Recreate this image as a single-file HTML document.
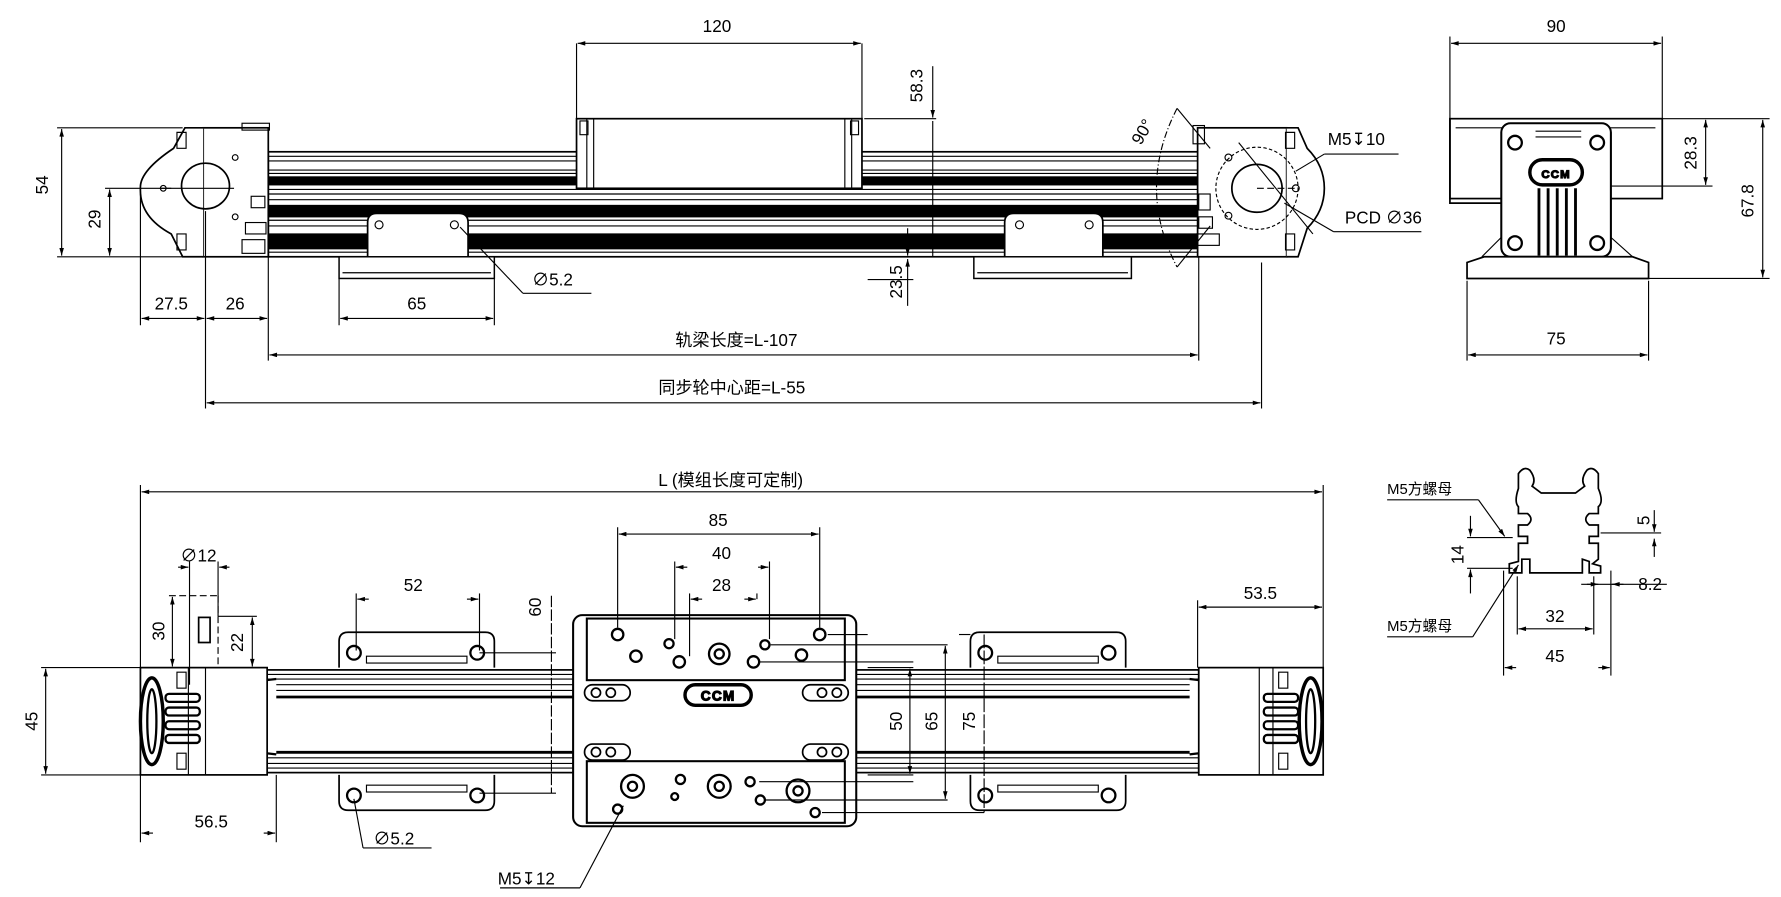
<!DOCTYPE html>
<html><head><meta charset="utf-8"><style>
html,body{margin:0;padding:0;background:#fff;}
svg{display:block;}
text{font-family:"Liberation Sans Narrow","Liberation Sans","Noto Sans CJK SC",sans-serif;fill:#000;}
</style></head><body>
<svg width="1781" height="897" viewBox="0 0 1560 786" preserveAspectRatio="none" xmlns="http://www.w3.org/2000/svg">
<defs>
<marker id="a" viewBox="0 0 10 6" refX="10" refY="3" markerWidth="8" markerHeight="4" orient="auto-start-reverse"><path d="M0,0L10,3L0,6z" fill="#000"/></marker>
</defs>
<g stroke="#000" fill="none" stroke-width="1">

<!-- ================= TOP VIEW ================= -->
<!-- rail -->
<rect x="235" y="133" width="815" height="92" fill="#fff" stroke-width="1.5"/>
<g stroke="#000">
<line x1="235" y1="137" x2="1050" y2="137"/><line x1="235" y1="141" x2="1050" y2="141"/>
<line x1="235" y1="149" x2="1050" y2="149"/><line x1="235" y1="152" x2="1050" y2="152"/>
<line x1="235" y1="166" x2="1050" y2="166"/><line x1="235" y1="170" x2="1050" y2="170"/>
<line x1="235" y1="175" x2="1050" y2="175"/><line x1="235" y1="193" x2="1050" y2="193"/>
<line x1="235" y1="198" x2="1050" y2="198"/><line x1="235" y1="221" x2="1050" y2="221"/>
</g>
<rect x="235" y="155" width="815" height="7" fill="#000"/>
<rect x="235" y="180" width="815" height="10" fill="#000"/>
<rect x="235" y="205" width="815" height="13" fill="#000"/>
<!-- top carriage (view) -->
<rect x="505" y="104" width="250" height="61" fill="#fff" stroke-width="1.5"/>
<line x1="520" y1="104" x2="520" y2="165"/><line x1="740" y1="104" x2="740" y2="165"/>
<line x1="514" y1="104" x2="514" y2="165"/><line x1="746" y1="104" x2="746" y2="165"/>
<path d="M508,106 l7,0 l0,12 l-7,0z M745,106 l7,0 l0,12 l-7,0z"/>
<!-- bottom feet top view -->
<path d="M322,225 L322,195 Q322,187 330,187 L402,187 Q410,187 410,195 L410,225" fill="#fff" stroke-width="1.5"/>
<rect x="297" y="225" width="136" height="19" fill="#fff" stroke-width="1.3"/>
<line x1="300" y1="239" x2="430" y2="239"/>
<circle cx="332" cy="197" r="3.5"/><circle cx="398" cy="197" r="3.5"/>
<path d="M880,225 L880,195 Q880,187 888,187 L958,187 Q966,187 966,195 L966,225" fill="#fff" stroke-width="1.5"/>
<rect x="853" y="225" width="138" height="19" fill="#fff" stroke-width="1.3"/>
<line x1="856" y1="239" x2="988" y2="239"/>
<circle cx="893" cy="197" r="3.5"/><circle cx="954" cy="197" r="3.5"/>
<!-- left end -->
<rect x="178" y="112" width="57" height="113" fill="#fff" stroke-width="1.5"/>
<path d="M178,112 L162,112 L152,130 Q122,150 123,165 Q122,190 150,205 L160,225 L178,225" fill="#fff" stroke-width="1.5"/>
<path d="M155,116 l8,0 l0,14 l-8,0z M155,205 l8,0 l0,14 l-8,0z"/>
<ellipse cx="180" cy="163" rx="21" ry="20" stroke-width="1.5"/>
<line x1="140" y1="165" x2="205" y2="165"/>
<circle cx="143" cy="165" r="2.5"/><circle cx="206" cy="138" r="2.5"/><circle cx="206" cy="190" r="2.5"/>
<rect x="212" y="108" width="24" height="6"/><rect x="220" y="172" width="12" height="10"/><rect x="215" y="195" width="18" height="10"/><rect x="212" y="210" width="20" height="12"/>
<!-- right end -->
<rect x="1049" y="112" width="78" height="113" fill="#fff" stroke-width="1.5"/>
<path d="M1127,112 L1137,112 L1145,130 Q1160,145 1160,165 Q1160,185 1145,200 L1137,225 L1127,225" fill="#fff" stroke-width="1.5"/>
<path d="M1126,116 l8,0 l0,14 l-8,0z M1126,205 l8,0 l0,14 l-8,0z"/>
<rect x="1045" y="110" width="10" height="16"/><rect x="1050" y="170" width="10" height="14"/><rect x="1050" y="190" width="12" height="10"/><rect x="1048" y="205" width="20" height="10"/>
<ellipse cx="1101" cy="165" rx="22" ry="21" stroke-width="1.5"/>
<circle cx="1101" cy="165" r="36" stroke-dasharray="3,2"/>
<line x1="1101" y1="165" x2="1135" y2="165" stroke-dasharray="6,3"/>
<line x1="1085" y1="125" x2="1150" y2="205"/>
<circle cx="1076" cy="138" r="3"/><circle cx="1076" cy="189" r="3"/><circle cx="1135" cy="165" r="3"/>
<path d="M1031,95 Q995,165 1031,234" stroke-dasharray="6,2,1,2"/>
<line x1="1031" y1="95" x2="1060" y2="130"/><line x1="1031" y1="234" x2="1060" y2="198"/>
<line x1="1135" y1="150" x2="1160" y2="135"/><line x1="1160" y1="135" x2="1225" y2="135"/>
<line x1="1125" y1="178" x2="1168" y2="203"/><line x1="1168" y1="203" x2="1245" y2="203"/>

<!-- dims top view -->
<line x1="505" y1="38" x2="505" y2="104"/><line x1="755" y1="38" x2="755" y2="104"/>
<line x1="506" y1="38" x2="754" y2="38" marker-start="url(#a)" marker-end="url(#a)"/>
<line x1="50" y1="112" x2="160" y2="112"/><line x1="50" y1="225" x2="500" y2="225"/>
<line x1="54" y1="113" x2="54" y2="224" marker-start="url(#a)" marker-end="url(#a)"/>
<line x1="92" y1="165" x2="150" y2="165"/>
<line x1="96" y1="166" x2="96" y2="224" marker-start="url(#a)" marker-end="url(#a)"/>
<line x1="123" y1="170" x2="123" y2="285"/><line x1="180" y1="185" x2="180" y2="358"/><line x1="235" y1="225" x2="235" y2="316"/>
<line x1="124" y1="279" x2="179" y2="279" marker-start="url(#a)" marker-end="url(#a)"/>
<line x1="181" y1="279" x2="234" y2="279" marker-start="url(#a)" marker-end="url(#a)"/>
<line x1="297" y1="244" x2="297" y2="285"/><line x1="433" y1="244" x2="433" y2="285"/>
<line x1="298" y1="279" x2="432" y2="279" marker-start="url(#a)" marker-end="url(#a)"/>
<line x1="403" y1="199" x2="458" y2="257"/><line x1="458" y1="257" x2="518" y2="257"/>
<line x1="1050" y1="225" x2="1050" y2="316"/><line x1="1105" y1="230" x2="1105" y2="358"/>
<line x1="236" y1="311" x2="1049" y2="311" marker-start="url(#a)" marker-end="url(#a)"/>
<line x1="181" y1="353" x2="1104" y2="353" marker-start="url(#a)" marker-end="url(#a)"/>
<line x1="757" y1="104" x2="820" y2="104"/>
<line x1="817" y1="58" x2="817" y2="103" marker-end="url(#a)"/>
<line x1="817" y1="106" x2="817" y2="225"/>
<line x1="795" y1="200" x2="795" y2="224" marker-end="url(#a)"/>
<line x1="795" y1="227" x2="795" y2="268" marker-start="url(#a)"/>
<line x1="760" y1="245" x2="800" y2="245"/>

<!-- ================= END VIEW (top right) ================= -->
<rect x="1270" y="104" width="186" height="70" fill="#fff" stroke-width="1.5"/>
<line x1="1275" y1="112" x2="1450" y2="112"/>
<path d="M1270,104 L1270,178 L1315,178" stroke-width="1.5"/>
<path d="M1456,104 L1456,174"/>
<rect x="1315" y="108" width="96" height="117" rx="8" fill="#fff" stroke-width="1.8"/>
<path d="M1285,244 L1285,230 L1300,225 L1430,225 L1444,230 L1444,244 Z" fill="#fff" stroke-width="1.5"/>
<path d="M1298,225 L1315,208 M1430,225 L1411,208"/>
<rect x="1340" y="140" width="46" height="22" rx="11" stroke-width="3"/>
<text x="1363" y="156" font-size="10" text-anchor="middle" font-weight="bold" style="letter-spacing:1px">CCM</text>
<circle cx="1327" cy="125" r="6" stroke-width="2"/><circle cx="1399" cy="125" r="6" stroke-width="2"/>
<circle cx="1327" cy="213" r="6" stroke-width="2"/><circle cx="1399" cy="213" r="6" stroke-width="2"/>
<g stroke-width="2.5"><line x1="1348" y1="165" x2="1348" y2="224"/><line x1="1356" y1="165" x2="1356" y2="224"/><line x1="1364" y1="165" x2="1364" y2="224"/><line x1="1372" y1="165" x2="1372" y2="224"/><line x1="1380" y1="165" x2="1380" y2="224"/></g>
<line x1="1345" y1="115" x2="1385" y2="115"/><line x1="1345" y1="120" x2="1385" y2="120"/>
<!-- end view dims -->
<line x1="1270" y1="32" x2="1270" y2="104"/><line x1="1456" y1="32" x2="1456" y2="104"/>
<line x1="1271" y1="38" x2="1455" y2="38" marker-start="url(#a)" marker-end="url(#a)"/>
<line x1="1456" y1="104" x2="1550" y2="104"/><line x1="1411" y1="163" x2="1500" y2="163"/><line x1="1444" y1="244" x2="1550" y2="244"/>
<line x1="1494" y1="105" x2="1494" y2="162" marker-start="url(#a)" marker-end="url(#a)"/>
<line x1="1544" y1="105" x2="1544" y2="243" marker-start="url(#a)" marker-end="url(#a)"/>
<line x1="1285" y1="246" x2="1285" y2="316"/><line x1="1444" y1="246" x2="1444" y2="316"/>
<line x1="1286" y1="311" x2="1443" y2="311" marker-start="url(#a)" marker-end="url(#a)"/>

<!-- ================= BOTTOM VIEW ================= -->
<rect x="234" y="587" width="816" height="90" fill="#fff" stroke-width="1.5"/>
<g>
<line x1="234" y1="591" x2="1050" y2="591"/><line x1="234" y1="595" x2="1050" y2="595"/><line x1="234" y1="600" x2="1050" y2="600"/>
<line x1="234" y1="605" x2="1050" y2="605"/><line x1="234" y1="610" x2="1050" y2="610"/>
<line x1="234" y1="660" x2="1050" y2="660"/><line x1="234" y1="664" x2="1050" y2="664"/><line x1="234" y1="669" x2="1050" y2="669"/><line x1="234" y1="673" x2="1050" y2="673"/>
</g>
<line x1="234" y1="611" x2="1050" y2="611" stroke-width="2"/><line x1="234" y1="659" x2="1050" y2="659" stroke-width="2"/>
<!-- feet bottom view -->
<g stroke-width="1.5" fill="#fff">
<path d="M297,585 L297,562 Q297,554 305,554 L425,554 Q433,554 433,562 L433,585"/>
<path d="M297,679 L297,702 Q297,710 305,710 L425,710 Q433,710 433,702 L433,679"/>
<path d="M850,585 L850,562 Q850,554 858,554 L978,554 Q986,554 986,562 L986,585"/>
<path d="M850,679 L850,702 Q850,710 858,710 L978,710 Q986,710 986,702 L986,679"/>
</g>
<g stroke-width="2"><circle cx="310" cy="572" r="6"/><circle cx="418" cy="572" r="6"/><circle cx="310" cy="697" r="6"/><circle cx="418" cy="697" r="6"/>
<circle cx="863" cy="572" r="6"/><circle cx="971" cy="572" r="6"/><circle cx="863" cy="697" r="6"/><circle cx="971" cy="697" r="6"/></g>
<rect x="321" y="575" width="88" height="6"/><rect x="321" y="688" width="88" height="6"/>
<rect x="874" y="575" width="88" height="6"/><rect x="874" y="688" width="88" height="6"/>
<!-- caps -->
<path d="M242,595 L215,598 Q196,602 196,612 L196,645 Q196,655 215,658 L242,661" stroke-width="2" fill="#fff"/>
<rect x="205" y="615" width="20" height="38" fill="#000"/>
<path d="M1042,595 L1068,598 Q1087,602 1087,612 L1087,645 Q1087,655 1068,658 L1042,661" stroke-width="2" fill="#fff"/>
<rect x="1050" y="615" width="20" height="38" fill="#000"/>
<!-- left end bottom view -->
<rect x="123" y="585" width="111" height="94" fill="#fff" stroke-width="1.5"/>
<line x1="180" y1="585" x2="180" y2="679"/><line x1="165" y1="585" x2="165" y2="679"/>
<ellipse cx="133" cy="632" rx="10" ry="38" stroke-width="3"/>
<ellipse cx="133" cy="632" rx="4" ry="28" stroke-width="2"/>
<g stroke-width="2"><rect x="145" y="608" width="30" height="7" rx="3"/><rect x="145" y="620" width="30" height="7" rx="3"/><rect x="145" y="632" width="30" height="7" rx="3"/><rect x="145" y="644" width="30" height="7" rx="3"/></g>
<rect x="155" y="589" width="8" height="14"/><rect x="155" y="660" width="8" height="14"/>
<!-- right end bottom view -->
<rect x="1050" y="585" width="109" height="94" fill="#fff" stroke-width="1.5"/>
<line x1="1103" y1="585" x2="1103" y2="679"/><line x1="1115" y1="585" x2="1115" y2="679"/>
<ellipse cx="1148" cy="632" rx="10" ry="38" stroke-width="3"/>
<ellipse cx="1148" cy="632" rx="4" ry="28" stroke-width="2"/>
<g stroke-width="2"><rect x="1107" y="608" width="30" height="7" rx="3"/><rect x="1107" y="620" width="30" height="7" rx="3"/><rect x="1107" y="632" width="30" height="7" rx="3"/><rect x="1107" y="644" width="30" height="7" rx="3"/></g>
<rect x="1120" y="589" width="8" height="14"/><rect x="1120" y="660" width="8" height="14"/>
<!-- carriage bottom view -->
<rect x="502" y="539" width="248" height="185" rx="8" fill="#fff" stroke-width="1.8"/>
<rect x="514" y="542" width="226" height="54" stroke-width="1.8"/>
<rect x="514" y="667" width="226" height="54" stroke-width="1.8"/>
<g stroke-width="2">
<circle cx="541" cy="556" r="5"/><circle cx="586" cy="564" r="4"/><circle cx="557" cy="575" r="5"/><circle cx="595" cy="580" r="5"/>
<circle cx="630" cy="573" r="9"/><circle cx="630" cy="573" r="4"/>
<circle cx="660" cy="580" r="5"/><circle cx="670" cy="565" r="4"/><circle cx="702" cy="574" r="5"/><circle cx="718" cy="556" r="5"/>
<circle cx="554" cy="689" r="10"/><circle cx="554" cy="689" r="4"/><circle cx="596" cy="683" r="4"/><circle cx="591" cy="698" r="3"/>
<circle cx="630" cy="689" r="10"/><circle cx="630" cy="689" r="4"/><circle cx="657" cy="685" r="4"/><circle cx="666" cy="701" r="4"/>
<circle cx="699" cy="693" r="10"/><circle cx="699" cy="693" r="4"/><circle cx="541" cy="709" r="4"/><circle cx="714" cy="712" r="4"/>
</g>
<rect x="512" y="600" width="40" height="14" rx="7" stroke-width="1.5"/><rect x="703" y="600" width="40" height="14" rx="7" stroke-width="1.5"/>
<rect x="512" y="652" width="40" height="14" rx="7" stroke-width="1.5"/><rect x="703" y="652" width="40" height="14" rx="7" stroke-width="1.5"/>
<g stroke-width="1.5"><circle cx="522" cy="607" r="4"/><circle cx="535" cy="607" r="4"/><circle cx="720" cy="607" r="4"/><circle cx="733" cy="607" r="4"/>
<circle cx="522" cy="659" r="4"/><circle cx="535" cy="659" r="4"/><circle cx="720" cy="659" r="4"/><circle cx="733" cy="659" r="4"/></g>
<rect x="600" y="600" width="58" height="18" rx="9" stroke-width="3"/>
<text x="629" y="614" font-size="12" text-anchor="middle" font-weight="bold" style="letter-spacing:1px">CCM</text>
<!-- leaders from carriage holes -->
<line x1="725" y1="556" x2="760" y2="556"/><line x1="675" y1="565" x2="830" y2="565"/><line x1="665" y1="580" x2="800" y2="580"/>
<line x1="665" y1="685" x2="800" y2="685"/><line x1="670" y1="701" x2="830" y2="701"/><line x1="720" y1="712" x2="862" y2="712"/>
<!-- bottom view dims -->
<line x1="123" y1="425" x2="123" y2="738"/><line x1="1159" y1="425" x2="1159" y2="585"/>
<line x1="124" y1="431" x2="1158" y2="431" marker-start="url(#a)" marker-end="url(#a)"/>
<line x1="541" y1="462" x2="541" y2="550"/><line x1="718" y1="462" x2="718" y2="550"/>
<line x1="542" y1="468" x2="717" y2="468" marker-start="url(#a)" marker-end="url(#a)"/>
<line x1="591" y1="492" x2="591" y2="560"/><line x1="674" y1="492" x2="674" y2="560"/>
<line x1="592" y1="497" x2="602" y2="497" marker-start="url(#a)"/><line x1="664" y1="497" x2="673" y2="497" marker-end="url(#a)"/>
<line x1="604" y1="520" x2="604" y2="575"/><line x1="663" y1="520" x2="663" y2="525"/>
<line x1="605" y1="525" x2="615" y2="525" marker-start="url(#a)"/><line x1="652" y1="525" x2="662" y2="525" marker-end="url(#a)"/>
<line x1="312" y1="520" x2="312" y2="570"/><line x1="420" y1="520" x2="420" y2="570"/>
<line x1="313" y1="525" x2="323" y2="525" marker-start="url(#a)"/><line x1="409" y1="525" x2="419" y2="525" marker-end="url(#a)"/>
<line x1="483" y1="522" x2="483" y2="695" stroke-dasharray="10,2"/>
<line x1="420" y1="572" x2="487" y2="572"/><line x1="420" y1="695" x2="487" y2="695"/>
<line x1="166" y1="492" x2="166" y2="600"/><line x1="191" y1="492" x2="191" y2="540"/>
<line x1="156" y1="497" x2="165" y2="497" marker-end="url(#a)"/><line x1="192" y1="497" x2="201" y2="497" marker-start="url(#a)"/>
<line x1="148" y1="522" x2="192" y2="522" stroke-dasharray="6,3"/><line x1="191" y1="522" x2="191" y2="585" stroke-dasharray="6,3"/>
<line x1="151" y1="523" x2="151" y2="584" marker-start="url(#a)" marker-end="url(#a)"/>
<rect x="174" y="541" width="10" height="22" stroke-width="1.5"/>
<line x1="191" y1="540" x2="225" y2="540"/>
<line x1="221" y1="541" x2="221" y2="584" marker-start="url(#a)" marker-end="url(#a)"/>
<line x1="36" y1="585" x2="123" y2="585"/><line x1="36" y1="679" x2="123" y2="679"/>
<line x1="40" y1="586" x2="40" y2="678" marker-start="url(#a)" marker-end="url(#a)"/>
<line x1="242" y1="679" x2="242" y2="738"/>
<line x1="124" y1="730" x2="134" y2="730" marker-start="url(#a)"/><line x1="231" y1="730" x2="241" y2="730" marker-end="url(#a)"/>
<line x1="310" y1="700" x2="318" y2="743"/><line x1="318" y1="743" x2="378" y2="743"/>
<line x1="546" y1="706" x2="508" y2="778"/><line x1="438" y1="778" x2="508" y2="778"/>
<line x1="1049" y1="526" x2="1049" y2="585"/>
<line x1="1050" y1="532" x2="1158" y2="532" marker-start="url(#a)" marker-end="url(#a)"/>
<line x1="760" y1="585" x2="800" y2="585"/><line x1="760" y1="679" x2="800" y2="679"/>
<line x1="797" y1="586" x2="797" y2="678" marker-start="url(#a)" marker-end="url(#a)"/>
<line x1="828" y1="566" x2="828" y2="700" marker-start="url(#a)" marker-end="url(#a)"/>
<line x1="862" y1="556" x2="862" y2="712" stroke-dasharray="12,2"/>
<line x1="840" y1="556" x2="850" y2="556"/>

<!-- ================= PROFILE SECTION ================= -->
<path d="M1330,415 Q1335,408 1340,412 Q1346,420 1342,426 L1350,432 L1380,432 L1388,426 Q1384,420 1390,412 Q1395,408 1400,415 L1400,428 Q1405,440 1400,444 L1400,450 L1392,450 Q1386,455 1392,460 L1400,460 L1400,470 L1392,470 L1392,476 L1400,476 L1400,490 L1395,494 L1402,496 L1402,502 L1392,502 L1392,492 L1386,490 L1386,502 L1340,502 L1340,490 L1333,490 L1333,502 L1322,502 L1322,494 L1330,492 L1330,476 L1338,476 L1338,470 L1330,470 L1330,460 L1338,460 Q1344,455 1338,450 L1330,450 L1330,444 Q1326,440 1330,428 Z" fill="#fff" stroke-width="1.5"/>
<line x1="1317" y1="500" x2="1317" y2="592"/><line x1="1411" y1="500" x2="1411" y2="592"/>
<line x1="1318" y1="585" x2="1328" y2="585" marker-start="url(#a)"/><line x1="1400" y1="585" x2="1410" y2="585" marker-end="url(#a)"/>
<line x1="1329" y1="505" x2="1329" y2="556"/><line x1="1396" y1="505" x2="1396" y2="556"/>
<line x1="1330" y1="551" x2="1395" y2="551" marker-start="url(#a)" marker-end="url(#a)"/>
<line x1="1385" y1="512" x2="1460" y2="512"/>
<line x1="1390" y1="512" x2="1400" y2="512" marker-end="url(#a)"/><line x1="1412" y1="512" x2="1422" y2="512" marker-start="url(#a)"/>
<line x1="1402" y1="467" x2="1455" y2="467"/><line x1="1449" y1="447" x2="1449" y2="466" marker-end="url(#a)"/><line x1="1449" y1="472" x2="1449" y2="488" marker-start="url(#a)"/>
<line x1="1285" y1="471" x2="1325" y2="471"/><line x1="1285" y1="498" x2="1325" y2="498"/>
<line x1="1288" y1="452" x2="1288" y2="470" marker-end="url(#a)"/><line x1="1288" y1="499" x2="1288" y2="520" marker-start="url(#a)"/>
<line x1="1215" y1="438" x2="1295" y2="438"/><line x1="1295" y1="438" x2="1318" y2="470" marker-end="url(#a)"/>
<line x1="1215" y1="558" x2="1290" y2="558"/><line x1="1290" y1="558" x2="1330" y2="495" marker-end="url(#a)"/>
</g>

<!-- ================= TEXT ================= -->
<g font-size="15">
<text x="628" y="28" text-anchor="middle">120</text>
<text x="48" y="168" transform="rotate(-90 42 168)" text-anchor="middle">54</text>
<text x="92" y="196" transform="rotate(-90 88 196)" text-anchor="middle">29</text>
<text x="150" y="271" text-anchor="middle">27.5</text>
<text x="206" y="271" text-anchor="middle">26</text>
<text x="365" y="271" text-anchor="middle">65</text>
<text x="466" y="250">∅5.2</text>
<text x="645" y="303" text-anchor="middle">轨梁长度=L-107</text>
<text x="641" y="345" text-anchor="middle">同步轮中心距=L-55</text>
<text x="808" y="75" transform="rotate(-90 808 75)" text-anchor="middle">58.3</text>
<text x="790" y="247" transform="rotate(-90 790 247)" text-anchor="middle">23.5</text>
<text x="1005" y="118" transform="rotate(-60 1005 118)" text-anchor="middle">90°</text>
<text x="1163" y="127">M5↧10</text>
<text x="1178" y="196">PCD ∅36</text>
<text x="1363" y="28" text-anchor="middle">90</text>
<text x="1486" y="134" transform="rotate(-90 1486 134)" text-anchor="middle">28.3</text>
<text x="1536" y="176" transform="rotate(-90 1536 176)" text-anchor="middle">67.8</text>
<text x="1363" y="302" text-anchor="middle">75</text>
<text x="640" y="426" text-anchor="middle">L (模组长度可定制)</text>
<text x="629" y="461" text-anchor="middle">85</text>
<text x="632" y="490" text-anchor="middle">40</text>
<text x="632" y="518" text-anchor="middle">28</text>
<text x="362" y="518" text-anchor="middle">52</text>
<text x="474" y="532" transform="rotate(-90 474 532)" text-anchor="middle">60</text>
<text x="158" y="492">∅12</text>
<text x="144" y="553" transform="rotate(-90 144 553)" text-anchor="middle">30</text>
<text x="213" y="563" transform="rotate(-90 213 563)" text-anchor="middle">22</text>
<text x="33" y="632" transform="rotate(-90 33 632)" text-anchor="middle">45</text>
<text x="185" y="725" text-anchor="middle">56.5</text>
<text x="327" y="740">∅5.2</text>
<text x="436" y="775">M5↧12</text>
<text x="1104" y="525" text-anchor="middle">53.5</text>
<text x="790" y="632" transform="rotate(-90 790 632)" text-anchor="middle">50</text>
<text x="821" y="632" transform="rotate(-90 821 632)" text-anchor="middle">65</text>
<text x="854" y="632" transform="rotate(-90 854 632)" text-anchor="middle">75</text>
<text x="1362" y="545" text-anchor="middle">32</text>
<text x="1362" y="580" text-anchor="middle">45</text>
<text x="1445" y="456" transform="rotate(-90 1445 456)" text-anchor="middle">5</text>
<text x="1435" y="517">8.2</text>
<text x="1282" y="486" transform="rotate(-90 1282 486)" text-anchor="middle">14</text>
</g>
<g font-size="13">
<text x="1215" y="433">M5方螺母</text>
<text x="1215" y="553">M5方螺母</text>
</g>
</svg>
</body></html>
